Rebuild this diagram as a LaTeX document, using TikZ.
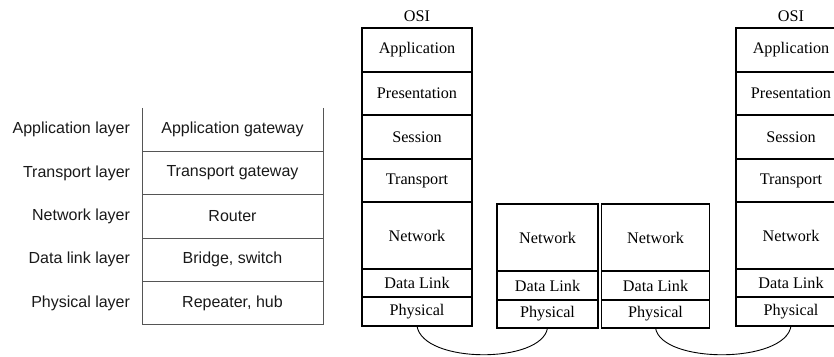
\documentclass[tikz,border=0pt]{standalone}
\usepackage{fontspec}
\setmainfont{Liberation Serif}
\newfontfamily\helvfont{Liberation Sans}
\usetikzlibrary{positioning}
\definecolor{TBgray}{RGB}{85,85,85}
\definecolor{TBtext}{RGB}{25,25,25}
\newcommand{\osisize}{\fontsize{16.2}{18}\selectfont}
\newcommand{\tabsize}{\helvfont\fontsize{16}{18}\selectfont}
\tikzset{
  layer/.style={draw,line width=1.2pt,minimum width=110pt,inner sep=0pt,outer sep=0pt,
                font=\osisize},
  osititle/.style={inner sep=0pt,font=\osisize},
  cell/.style={minimum width=181pt,minimum height=43.4pt,inner sep=0pt,outer sep=0pt,
               font=\tabsize,text=TBtext},
  lbl/.style={inner sep=0pt,outer sep=0pt,font=\tabsize,text=TBtext},
  tline/.style={draw=TBgray,line width=0.9pt},
  sepline/.style={line width=2pt},
  wire/.style={line width=0.9pt}
}
\begin{document}
\begin{tikzpicture}[x=1pt,y=-1pt]
  \clip (0,0) rectangle (834,356);
  % devices per layer
  \node[cell] (appgw) at (232.5,129.5) {Application gateway};
  \node[cell,below=0pt of appgw] (trgw) {Transport gateway};
  \node[cell,below=0pt of trgw] (rtr) {Router};
  \node[cell,below=0pt of rtr] (brg) {Bridge, switch};
  \node[cell,below=0pt of brg] (hub) {Repeater, hub};
  \node[lbl,left=12pt of appgw] (appl) {Application layer};
  \node[lbl,left=12pt of trgw] (trl) {Transport layer};
  \node[lbl,left=12pt of rtr] (netl) {Network layer};
  \node[lbl,left=12pt of brg] (dll) {Data link layer};
  \node[lbl,left=12pt of hub] (phl) {Physical layer};
  \draw[tline] (appgw.north west) -- (hub.south west);
  \draw[tline] (appgw.north east) -- (hub.south east);
  \draw[tline] (appgw.south west) -- (appgw.south east);
  \draw[tline] (trgw.south west) -- (trgw.south east);
  \draw[tline] (rtr.south west) -- (rtr.south east);
  \draw[tline] (brg.south west) -- (brg.south east);
  \draw[tline] (hub.south west) -- (hub.south east);
  % host A
  \node[layer,minimum height=44pt] (appA) at (417,50) {Application};
  \node[osititle,above=6pt of appA] (osiA) {OSI};
  \node[layer,minimum height=43pt,below=0pt of appA] (preA) {Presentation};
  \node[layer,minimum height=44pt,below=0pt of preA] (sesA) {Session};
  \node[layer,minimum height=43pt,below=0pt of sesA] (trA) {Transport};
  \node[layer,minimum height=67pt,below=0pt of trA] (netA) {Network};
  \node[layer,minimum height=28pt,below=0pt of netA] (dlA) {Data Link};
  \node[layer,minimum height=29pt,below=0pt of dlA] (phA) {Physical};
  \draw[sepline] (preA.south west) -- (preA.south east);
  \draw[sepline] (sesA.south west) -- (sesA.south east);
  \draw[sepline] (trA.south west) -- (trA.south east);
  % routers in between
  \node[layer,minimum width=101pt,minimum height=67pt] (netL) at (547.5,237.5) {Network};
  \node[layer,minimum width=101pt,minimum height=29pt,below=0pt of netL] (dlL) {Data Link};
  \node[layer,minimum width=101pt,minimum height=28pt,below=0pt of dlL] (phL) {Physical};
  \node[layer,minimum width=108pt,minimum height=67pt] (netR) at (655.5,237.5) {Network};
  \node[layer,minimum width=108pt,minimum height=29pt,below=0pt of netR] (dlR) {Data Link};
  \node[layer,minimum width=108pt,minimum height=28pt,below=0pt of dlR] (phR) {Physical};
  % host B
  \node[layer,minimum height=44pt] (appB) at (791,50) {Application};
  \node[osititle,above=6pt of appB] (osiB) {OSI};
  \node[layer,minimum height=43pt,below=0pt of appB] (preB) {Presentation};
  \node[layer,minimum height=44pt,below=0pt of preB] (sesB) {Session};
  \node[layer,minimum height=43pt,below=0pt of sesB] (trB) {Transport};
  \node[layer,minimum height=67pt,below=0pt of trB] (netB) {Network};
  \node[layer,minimum height=28pt,below=0pt of netB] (dlB) {Data Link};
  \node[layer,minimum height=29pt,below=0pt of dlB] (phB) {Physical};
  \draw[sepline] (preB.south west) -- (preB.south east);
  \draw[sepline] (sesB.south west) -- (sesB.south east);
  \draw[sepline] (trB.south west) -- (trB.south east);
  % links
  \draw[wire] (phA.south) .. controls +(6,38) and +(-6,36) .. (phL.south);
  \draw[wire] (phR.south) .. controls +(6,36) and +(-6,38) .. (phB.south);
\end{tikzpicture}
\end{document}
